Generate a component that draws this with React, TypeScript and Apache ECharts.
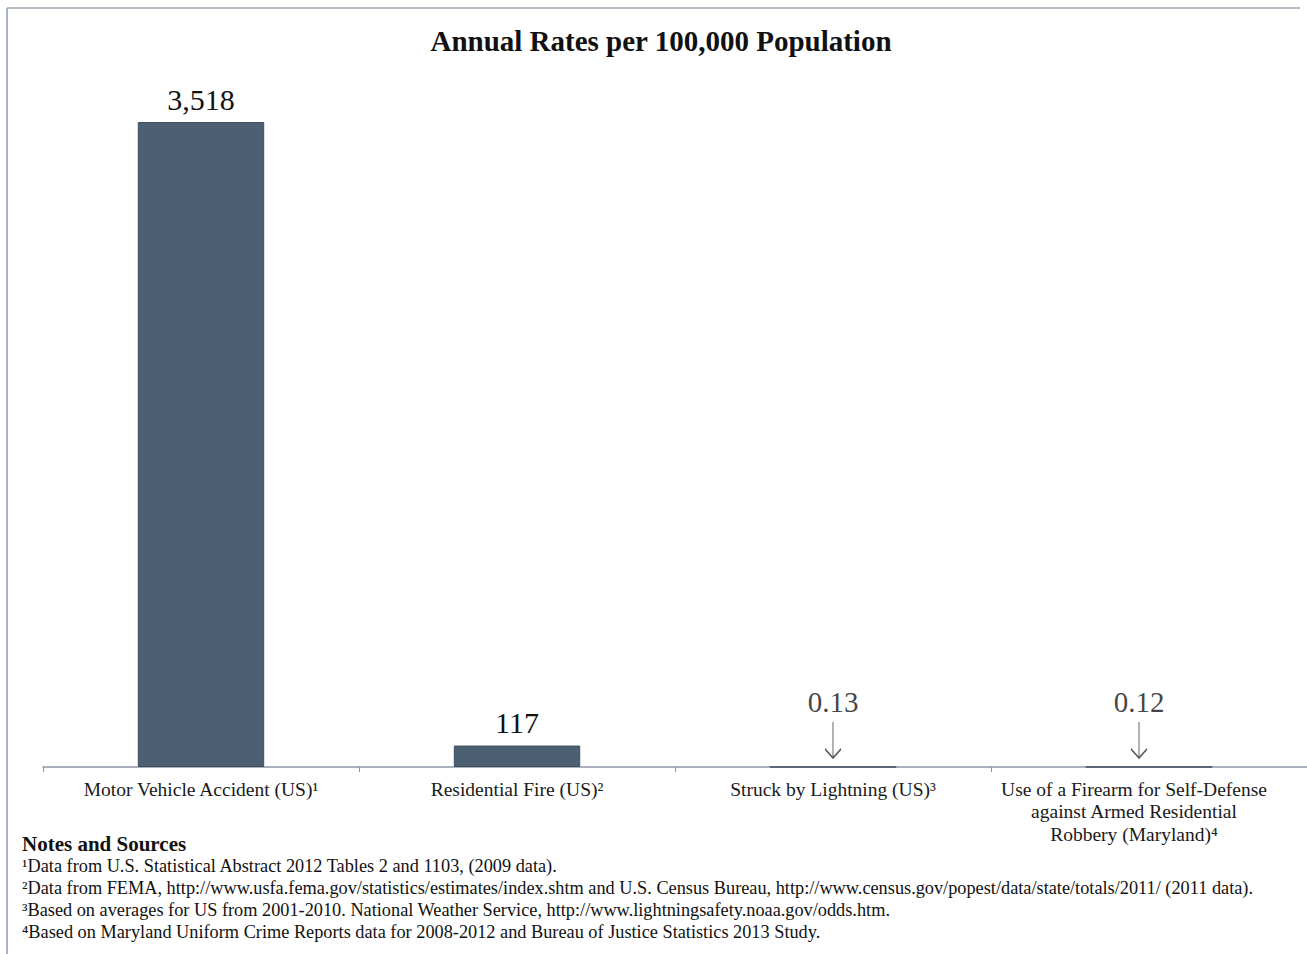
import React, { useEffect, useRef } from "react";
import * as echarts from "echarts";

const title = "Annual Rates per 100,000 Population";
const categories = [
  "Motor Vehicle Accident (US)¹",
  "Residential Fire (US)²",
  "Struck by Lightning (US)³",
  "Use of a Firearm for Self-Defense\nagainst Armed Residential\nRobbery (Maryland)⁴",
];
const values = [3518, 117, 0.13, 0.12];
const notesTitle = "Notes and Sources";
const notes = [
  "¹Data from U.S. Statistical Abstract 2012 Tables 2 and 1103, (2009 data).",
  "²Data from FEMA, http://www.usfa.fema.gov/statistics/estimates/index.shtm and U.S. Census Bureau, http://www.census.gov/popest/data/state/totals/2011/ (2011 data).",
  "³Based on averages for US from 2001-2010. National Weather Service, http://www.lightningsafety.noaa.gov/odds.htm.",
  "⁴Based on Maryland Uniform Crime Reports data for 2008-2012 and Bureau of Justice Statistics 2013 Study.",
];

const SERIF = "'Liberation Serif', 'Times New Roman', serif";
const BAR = "#4c5f73";
const ARROW = "path://M8,0 L8,36 M0,27 L8,36 L16,27";

function fmt(v: number): string {
  return v >= 1 ? Math.round(v).toLocaleString("en-US") : String(v);
}

export default function App() {
  const ref = useRef<HTMLDivElement>(null);
  useEffect(() => {
    if (!ref.current) return;
    const chart = echarts.init(ref.current, null, { renderer: "svg" });
    const lastIdx = categories.length - 1;
    const small = values.map((v, i) =>
      v < 1
        ? { value: v, symbolOffset: [i === lastIdx ? -10 : 0, -27] }
        : "-"
    );
    chart.setOption({
      animation: false,
      backgroundColor: "#ffffff",
      title: {
        text: title,
        left: 656,
        textAlign: "center",
        top: 21,
        textStyle: { fontFamily: SERIF, fontSize: 29, fontWeight: "bold", color: "#111" },
      },
      grid: { left: 43, right: -3, top: 122, bottom: 187, containLabel: false },
      xAxis: {
        type: "category",
        data: categories,
        axisLine: { show: true, lineStyle: { color: "#8c96a8", width: 1.5 } },
        axisTick: { show: true, length: 5, lineStyle: { color: "#8c96a8" } },
        axisLabel: {
          interval: 0,
          margin: 11,
          fontFamily: SERIF,
          fontSize: 19.5,
          lineHeight: 22.5,
          color: "#1a1a1a",
          formatter: (val: string, idx: number) =>
            idx === lastIdx
              ? val.split("\n").map((l) => `{s|${l}}`).join("\n")
              : val,
          rich: { s: { fontFamily: SERIF, fontSize: 19.5, lineHeight: 22.5, color: "#1a1a1a", padding: [0, 30, 0, 0] } },
        },
      },
      yAxis: { type: "value", min: 0, max: 3518, show: false, splitLine: { show: false } },
      series: [
        {
          type: "bar",
          data: values,
          barWidth: "40%",
          itemStyle: { color: BAR, borderColor: "#3e4f60", borderWidth: 1 },
          label: {
            show: true,
            position: "top",
            distance: 8,
            fontFamily: SERIF,
            fontSize: 30,
            color: "#111",
            formatter: (p: any) => (p.value >= 1 ? fmt(p.value) : ""),
          },
        },
        {
          type: "scatter",
          data: small,
          symbol: ARROW,
          symbolSize: [16, 36],
          symbolOffset: [0, -27],
          itemStyle: { color: "rgba(0,0,0,0)", borderColor: "#333", borderWidth: 1.4 },
          label: {
            show: true,
            position: "top",
            distance: 4,
            fontFamily: SERIF,
            fontSize: 29,
            color: "#111",
            formatter: (p: any) => fmt(p.value),
          },
          z: 5,
        },
      ],
      graphic: [
        { type: "line", shape: { x1: 7, y1: 8, x2: 7, y2: 954 }, style: { stroke: "#a9b3c2", lineWidth: 2 } },
        { type: "line", shape: { x1: 7, y1: 8, x2: 1300, y2: 8 }, style: { stroke: "#b5bcc8", lineWidth: 2 } },
        {
          type: "text",
          left: 22,
          top: 833,
          style: { text: notesTitle, font: `bold 21px ${SERIF}`, fill: "#111" },
        },
        ...notes.map((n, i) => ({
          type: "text",
          left: 22,
          top: 857 + i * 22,
          style: { text: n, font: `18.3px ${SERIF}`, fill: "#111" },
        })),
      ],
    });
    return () => chart.dispose();
  }, []);
  return (
    <div
      ref={ref}
      style={{ position: "fixed", left: 0, top: 0, width: 1307, height: 954 }}
    />
  );
}
